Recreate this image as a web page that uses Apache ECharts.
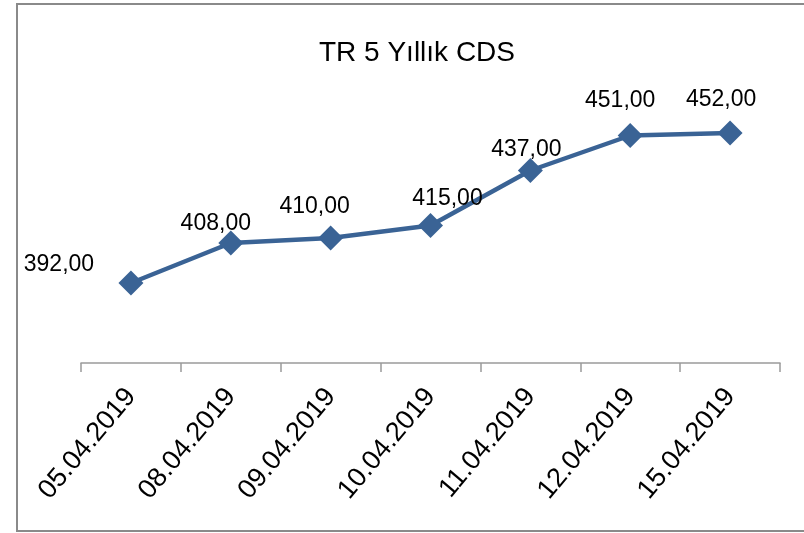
<!DOCTYPE html>
<html>
<head>
<meta charset="utf-8">
<script src="https://cdn.jsdelivr.net/npm/echarts@6/dist/echarts.min.js"></script>
<style>
    html, body { margin: 0; padding: 0; background: #fff; }
    #cdsChart { width: 804px; height: 533px; }
</style>
</head>
<body>
<div id="cdsChart"></div>
<script>
/* veri */
var dates = ['05.04.2019', '08.04.2019', '09.04.2019', '10.04.2019', '11.04.2019', '12.04.2019', '15.04.2019'];
var cdsValues = [392, 408, 410, 415, 437, 451, 452];
// etiketlerin elle kaydırılmış konumları (Excel'deki gibi)
var labelOffsets = [[-72, -18], [-15, -19], [-16, -31], [17, -27], [-4, -21], [-10, -35], [-9, -33]];

(function () {
    var lineColor = '#3a6395';
    var chart = echarts.init(document.getElementById('cdsChart'));

    var seriesData = cdsValues.map(function (v, i) {
        return {
            value: v,
            label: { offset: labelOffsets[i] }
        };
    });

    var option = {
        animation: false,
        title: {
            text: 'TR 5 Yıllık CDS',
            left: 412,
            top: 34,
            textAlign: 'center',
            textStyle: {
                fontFamily: 'Liberation Sans',
                fontWeight: 'normal',
                fontSize: 28,
                color: '#000'
            }
        },
        graphic: [{
            type: 'rect',
            shape: { x: 17, y: 4, width: 800, height: 527 },
            style: { fill: null, stroke: '#8a8a8a', lineWidth: 2 },
            silent: true
        }],
        grid: {
            left: 81,
            right: 24,
            top: 113,
            bottom: 170
        },
        xAxis: {
            type: 'category',
            data: dates,
            boundaryGap: true,
            axisLine: { lineStyle: { color: '#9a9a9a', width: 1.5 } },
            axisTick: { show: true, length: 9, lineStyle: { color: '#9a9a9a', width: 1.5 } },
            axisLabel: {
                rotate: 50,
                margin: 29,
                fontFamily: 'Liberation Sans',
                fontSize: 27,
                color: '#000'
            }
        },
        yAxis: {
            type: 'value',
            min: 360,
            max: 460,
            show: false
        },
        series: [{
            type: 'line',
            data: seriesData,
            symbol: 'diamond',
            symbolSize: 25,
            itemStyle: { color: lineColor },
            lineStyle: { color: lineColor, width: 4.5 },
            label: {
                show: true,
                position: 'inside',
                fontFamily: 'Liberation Sans',
                fontSize: 23,
                color: '#000',
                formatter: function (p) {
                    return p.value.toFixed(2).replace('.', ',');
                }
            }
        }]
    };

    chart.setOption(option);
})();
</script>
</body>
</html>
